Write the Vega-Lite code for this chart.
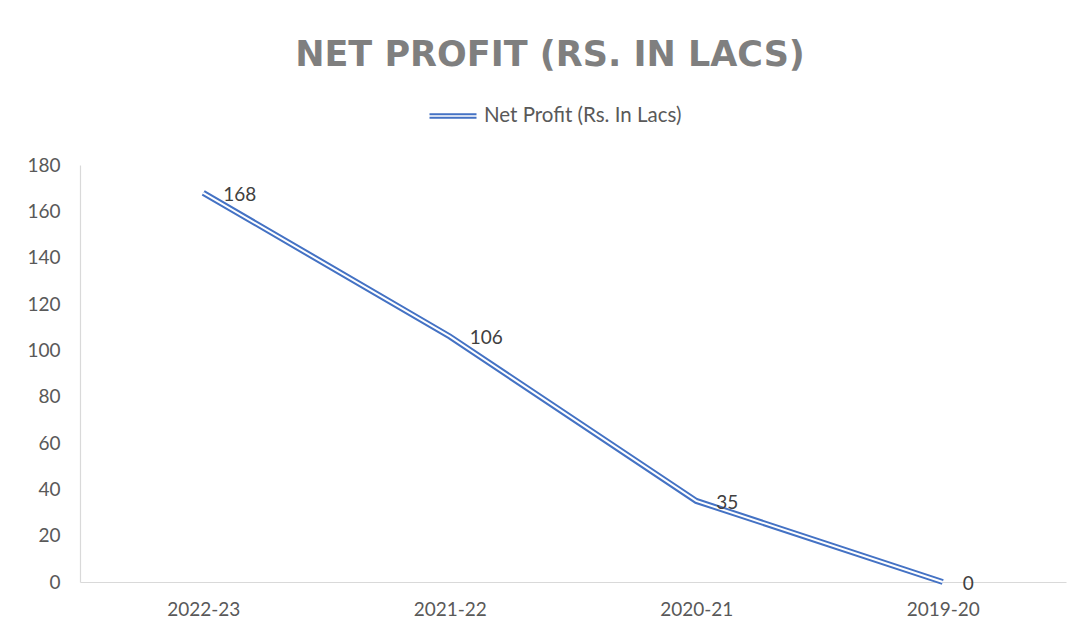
{
  "$schema": "https://vega.github.io/schema/vega-lite/v6.json",
  "autosize": {"type": "none"},
  "width": 986,
  "height": 417,
  "padding": {"left": 80, "top": 165, "right": 15, "bottom": 53},
  "background": "white",
  "config": {
    "font": "Lato",
    "view": {"stroke": null},
    "axis": {"labelFont": "Lato", "labelFontSize": 19, "labelColor": "#595959", "ticks": false, "grid": false, "domainColor": "#d9d9d9", "domainWidth": 1.2, "title": null}
  },
  "title": {
    "text": "NET PROFIT (RS. IN LACS)",
    "font": "DejaVu Sans",
    "fontSize": 35,
    "fontWeight": "bold",
    "color": "#7f7f7f",
    "anchor": "middle",
    "frame": "group",
    "dx": -23,
    "offset": 18
  },
  "data": {
    "values": [
      {"year": "2022-23", "profit": 168, "series": "Net Profit (Rs. In Lacs)"},
      {"year": "2021-22", "profit": 106, "series": "Net Profit (Rs. In Lacs)"},
      {"year": "2020-21", "profit": 35, "series": "Net Profit (Rs. In Lacs)"},
      {"year": "2019-20", "profit": 0, "series": "Net Profit (Rs. In Lacs)"}
    ]
  },
  "encoding": {
    "x": {"field": "year", "type": "nominal", "sort": null, "scale": {"type": "point", "padding": 0.5}, "axis": {"labelAngle": 0, "labelPadding": 18}},
    "y": {"field": "profit", "type": "quantitative", "scale": {"domain": [0, 180], "nice": false}, "axis": {"values": [0, 20, 40, 60, 80, 100, 120, 140, 160, 180], "labelPadding": 20}}
  },
  "layer": [
    {
      "mark": {"type": "line", "strokeWidth": 6, "strokeCap": "butt", "strokeJoin": "miter"},
      "encoding": {
        "color": {"field": "series", "type": "nominal", "scale": {"range": ["#4472c4"]},
          "legend": {"title": null, "orient": "none", "legendX": 348, "legendY": -74, "direction": "horizontal",
            "symbolType": "M-1,-0.075H1M-1,0.075H1", "symbolSize": 2209, "symbolStrokeWidth": 2.2, "symbolFillColor": "transparent",
            "labelFont": "Lato", "labelFontSize": 20.5, "labelColor": "#595959", "labelOffset": 6, "labelLimit": 400}}
      }
    },
    {
      "mark": {"type": "line", "strokeWidth": 2, "color": "white", "strokeCap": "butt", "strokeJoin": "miter"}
    },
    {
      "mark": {"type": "text", "align": "left", "baseline": "middle", "dx": 20, "dy": 2, "fontSize": 19, "color": "#404040", "font": "Lato"},
      "encoding": {"text": {"field": "profit", "type": "quantitative"}}
    }
  ]
}
